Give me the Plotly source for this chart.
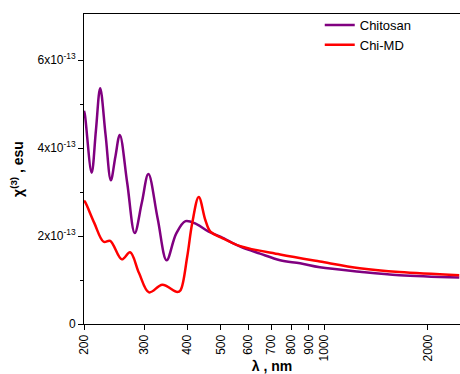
import plotly.graph_objects as go

# wavelength (nm) and chi(3) in units of 1e-13 esu
chitosan_wl = [200, 201.3, 210.5, 216.6, 222.9, 231.1, 239.4, 246.7, 254.2, 267.2, 280.9, 294.4,
               307.8, 327.5, 347.8, 370.5, 394.7, 424.8, 461, 500, 569.6, 650, 743.5, 850, 970.6,
               1267, 1654, 2468]
chitosan_val = [4.85, 4.75, 3.44, 4.40, 5.36, 4.30, 3.27, 3.80, 4.30, 3.20, 2.07, 2.75,
                3.41, 2.40, 1.45, 2.05, 2.34, 2.27, 2.10, 1.98, 1.76, 1.60, 1.45, 1.38, 1.29,
                1.19, 1.11, 1.06]

chimd_wl = [200, 201.3, 214.2, 228.1, 238.3, 257.6, 272.3, 289.1, 309.1, 337.9, 373.5, 381.8,
            399.2, 412.7, 431.3, 450.9, 466.2, 500, 569.6, 743.5, 970.6, 1267, 1654, 2468]
chimd_val = [2.80, 2.78, 2.30, 1.87, 1.89, 1.47, 1.63, 1.16, 0.72, 0.89, 0.73, 0.77,
             1.53, 2.29, 2.89, 2.36, 2.10, 1.97, 1.77, 1.58, 1.42, 1.27, 1.18, 1.11]

x_tickvals = [200, 300, 400, 500, 600, 700, 800, 900, 1000, 2000]
x_ticktext = ["200", "300", "400", "500", "600", "700", "800", "900", "1000", "2000"]
y_tickvals = [0, 2, 4, 6]
y_ticktext = ["0", "2x10<sup>-13</sup>", "4x10<sup>-13</sup>", "6x10<sup>-13</sup>"]

font_family = "Liberation Sans, Arial, sans-serif"

fig = go.Figure()
fig.add_trace(go.Scatter(x=chitosan_wl, y=chitosan_val, mode="lines", name="Chitosan",
                         line=dict(color="#800080", width=2.5, shape="spline")))
fig.add_trace(go.Scatter(x=chimd_wl, y=chimd_val, mode="lines", name="Chi-MD",
                         line=dict(color="#FF0000", width=2.5, shape="spline")))

fig.update_layout(
    width=460, height=374,
    margin=dict(l=84, r=0, t=14, b=50),
    paper_bgcolor="white", plot_bgcolor="white",
    font=dict(family=font_family, size=12, color="black"),
    showlegend=True,
    legend=dict(x=0.627, y=1.013, xanchor="left", yanchor="top",
                bgcolor="rgba(0,0,0,0)", font=dict(size=13),
                tracegroupgap=0, itemwidth=30),
    xaxis=dict(type="log", range=[2.30103, 3.3945],
               tickvals=x_tickvals, ticktext=x_ticktext, tickangle=-90,
               ticks="outside", ticklen=5, tickwidth=1, tickcolor="black",
               showline=True, linecolor="black", linewidth=1, mirror=True,
               showgrid=False, zeroline=False,
               title=dict(text="<b>λ , nm</b>", standoff=2, font=dict(size=14))),
    yaxis=dict(range=[0, 7.05],
               tickvals=y_tickvals, ticktext=y_ticktext,
               ticks="outside", ticklen=5, tickwidth=1, tickcolor="black",
               minor=dict(tickvals=[1, 3, 5], ticks="outside", ticklen=3, tickcolor="black"),
               showline=True, linecolor="black", linewidth=1,
               showgrid=False, zeroline=False,
               title=dict(text="<b>χ<sup>(3)</sup> , esu</b>", standoff=10, font=dict(size=14))),
)

fig.write_html("out.html")
